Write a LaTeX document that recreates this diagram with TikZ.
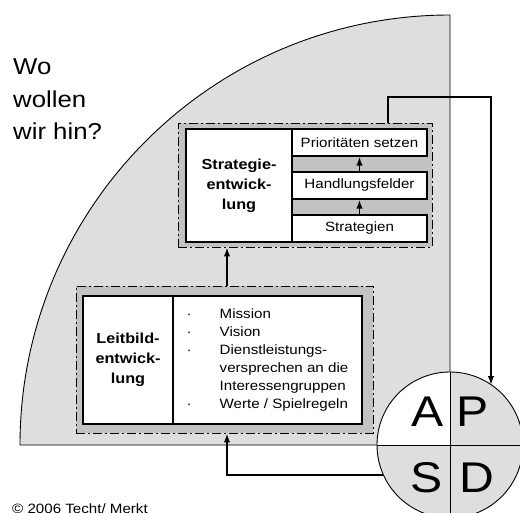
\documentclass[tikz,border=0pt]{standalone}
\usepackage{fontspec}
\setmainfont[FakeStretch=1.12]{Liberation Sans}
\usetikzlibrary{arrows.meta}
\definecolor{hellgrau}{gray}{0.87}
\definecolor{dunkelgrau}{gray}{0.76}

\begin{document}
\begin{tikzpicture}[x=1pt, y=-1pt, >={Latex[length=9pt,width=6.5pt]},
    rahmen/.style={draw=black, fill=dunkelgrau, line width=0.9pt,
        dash pattern=on 9pt off 3pt on 2pt off 3pt, inner sep=0pt},
    feld/.style={draw=black, fill=white, line width=1.2pt, inner sep=0pt,
        font=\fontsize{13.5}{18}\selectfont},
    titel/.style={feld, align=center, font=\bfseries\fontsize{14.5}{20}\selectfont},
    pfeil/.style={->, line width=1.8pt},
    buchstabe/.style={inner sep=0pt, font=\fontsize{43}{43}\selectfont}]
    % 1. Sichtbereich
    \clip (0,0) rectangle (520,513);

    % 2. Viertelkreis als Hintergrund
    \filldraw[fill=hellgrau, draw=black, line width=0.9pt]
        (450,445) -- (20,445) arc[start angle=180, end angle=270, radius=430] -- cycle;

    % 3. Strategieentwicklung
    \node[rahmen, minimum width=254pt, minimum height=124pt] (stratRahmen) at (305,185) {};
    \node[titel, minimum width=106pt, minimum height=113pt] (stratTitel) at (239,185.5)
        {Strategie-\\entwick-\\lung};
    \node[feld, minimum width=135pt, minimum height=27pt] (prio) at (359.5,142.5) {Prioritäten setzen};
    \node[feld, minimum width=135pt, minimum height=27pt] (handl) at (359.5,185.5) {Handlungsfelder};
    \node[feld, minimum width=135pt, minimum height=27pt] (strat) at (359.5,228.5) {Strategien};
    \draw[pfeil] (strat.north) -- (handl.south);
    \draw[pfeil] (handl.north) -- (prio.south);

    % 4. Leitbildentwicklung
    \node[rahmen, minimum width=297pt, minimum height=147pt] (leitRahmen) at (224.5,359.5) {};
    \node[titel, minimum width=90pt, minimum height=128pt] (leitTitel) at (128,360)
        {Leitbild-\\entwick-\\lung};
    \node[feld, minimum width=189pt, minimum height=128pt, align=left] (leitListe) at (267.5,360)
        {\makebox[33pt][l]{·}Mission\\
         \makebox[33pt][l]{·}Vision\\
         \makebox[33pt][l]{·}Dienstleistungs-\\
         \hspace*{33pt}versprechen an die\\
         \hspace*{33pt}Interessengruppen\\
         \makebox[33pt][l]{·}Werte / Spielregeln};

    % 5. PDCA-Kreis
    \node[circle, minimum size=146pt, inner sep=0pt, fill=hellgrau] (pdca) at (450,445) {};
    \fill[white] (pdca.center) -- (pdca.west) arc[start angle=180, end angle=270, radius=73] -- cycle;
    \draw[line width=0.9pt] (pdca.north) -- (pdca.south) (pdca.west) -- (pdca.east);
    \draw[line width=0.9pt] (pdca.center) circle[radius=73];
    \node[buchstabe] (buchA) at (428,412) {A};
    \node[buchstabe] (buchP) at (473,412) {P};
    \node[buchstabe] (buchS) at (427,478) {S};
    \node[buchstabe] (buchD) at (477,478) {D};

    % 6. Pfeile zwischen den Kästen und zum Kreis
    \coordinate (knickOben) at (388,97);
    \coordinate (knickRechts) at (491,97);
    \coordinate (knickUnten) at (227,476);
    \draw[pfeil] (leitRahmen.north -| knickUnten) -- (stratRahmen.south -| knickUnten);
    \draw[pfeil] (stratRahmen.north -| knickOben) -- (knickOben) -- (knickRechts)
        -- (knickRechts |- pdca.55.6);
    \draw[pfeil] (pdca.204.5) -| (leitRahmen.south -| knickUnten);

    % 7. Texte
    \node[anchor=base west, align=left, inner sep=0pt, font=\fontsize{23}{32.5}\selectfont]
        (frage) at (13,140) {Wo\\wollen\\wir hin?};
    \node[anchor=base west, inner sep=0pt, font=\fontsize{13.5}{16}\selectfont]
        (copyright) at (12,513) {© 2006 Techt/ Merkt};
\end{tikzpicture}
\end{document}
